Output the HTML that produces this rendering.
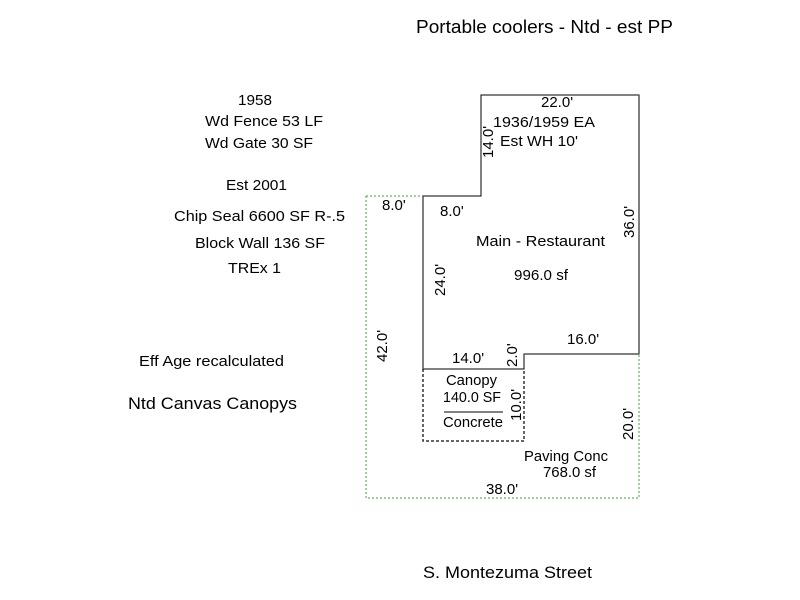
<html><body style="margin:0;background:#fff">
<svg width="800" height="600" xmlns="http://www.w3.org/2000/svg" font-family="Liberation Sans, Arial, sans-serif" font-size="15" fill="#000">
<rect width="800" height="600" fill="#fff"/>
<path d="M366,196 H423 M366,196 V498 H639 V354" fill="none" stroke="#3a3" stroke-width="1" stroke-dasharray="2,2"/>
<path d="M423,369 V441 H524 V369" fill="none" stroke="#333" stroke-width="1.5" stroke-dasharray="3,2"/>
<path d="M481,95 H639 V354 H524 V369 H423 V196 H481 Z" fill="none" stroke="#000" stroke-width="1"/>
<path d="M639,95 V354 M423,196 V369 M524,354 H639" stroke="#555" stroke-width="1.5" fill="none"/>
<g>
<text x="416" y="33" font-size="18" textLength="257" lengthAdjust="spacingAndGlyphs">Portable coolers - Ntd - est PP</text>
<text x="238" y="105" textLength="34" lengthAdjust="spacingAndGlyphs">1958</text>
<text x="205" y="126" textLength="118" lengthAdjust="spacingAndGlyphs">Wd Fence 53 LF</text>
<text x="205" y="148" textLength="108" lengthAdjust="spacingAndGlyphs">Wd Gate 30 SF</text>
<text x="226" y="190" textLength="61" lengthAdjust="spacingAndGlyphs">Est 2001</text>
<text x="174" y="221" textLength="171" lengthAdjust="spacingAndGlyphs">Chip Seal 6600 SF R-.5</text>
<text x="195" y="248" textLength="130" lengthAdjust="spacingAndGlyphs">Block Wall 136 SF</text>
<text x="228" y="273" textLength="53" lengthAdjust="spacingAndGlyphs">TREx 1</text>
<text x="139" y="366" textLength="145" lengthAdjust="spacingAndGlyphs">Eff Age recalculated</text>
<text x="128" y="409" font-size="17" textLength="169" lengthAdjust="spacingAndGlyphs">Ntd Canvas Canopys</text>
<text x="423" y="578" font-size="17" textLength="169" lengthAdjust="spacingAndGlyphs">S. Montezuma Street</text>
<text x="541" y="107">22.0'</text>
<text x="493" y="127" textLength="102" lengthAdjust="spacingAndGlyphs">1936/1959 EA</text>
<text x="500" y="146" textLength="78" lengthAdjust="spacingAndGlyphs">Est WH 10'</text>
<text transform="translate(493,158) rotate(-90)">14.0'</text>
<text transform="translate(634,238) rotate(-90)">36.0'</text>
<text x="382" y="210">8.0'</text>
<text x="440" y="216">8.0'</text>
<text x="476" y="246" textLength="129" lengthAdjust="spacingAndGlyphs">Main - Restaurant</text>
<text x="514" y="280" textLength="54" lengthAdjust="spacingAndGlyphs">996.0 sf</text>
<text transform="translate(445,296) rotate(-90)">24.0'</text>
<text transform="translate(387,362) rotate(-90)">42.0'</text>
<text x="567" y="344">16.0'</text>
<text x="452" y="363">14.0'</text>
<text transform="translate(517,367) rotate(-90)">2.0'</text>
<text x="446" y="385" textLength="51" lengthAdjust="spacingAndGlyphs">Canopy</text>
<text x="443" y="402" textLength="58" lengthAdjust="spacingAndGlyphs">140.0 SF</text>
<line x1="444" y1="412" x2="503" y2="412" stroke="#000"/>
<text x="443" y="427" textLength="60" lengthAdjust="spacingAndGlyphs">Concrete</text>
<text transform="translate(521,421) rotate(-90)">10.0'</text>
<text transform="translate(633,440) rotate(-90)">20.0'</text>
<text x="524" y="461" textLength="84" lengthAdjust="spacingAndGlyphs">Paving Conc</text>
<text x="543" y="477" textLength="53" lengthAdjust="spacingAndGlyphs">768.0 sf</text>
<text x="486" y="494">38.0'</text>
</g>
</svg>
</body></html>
